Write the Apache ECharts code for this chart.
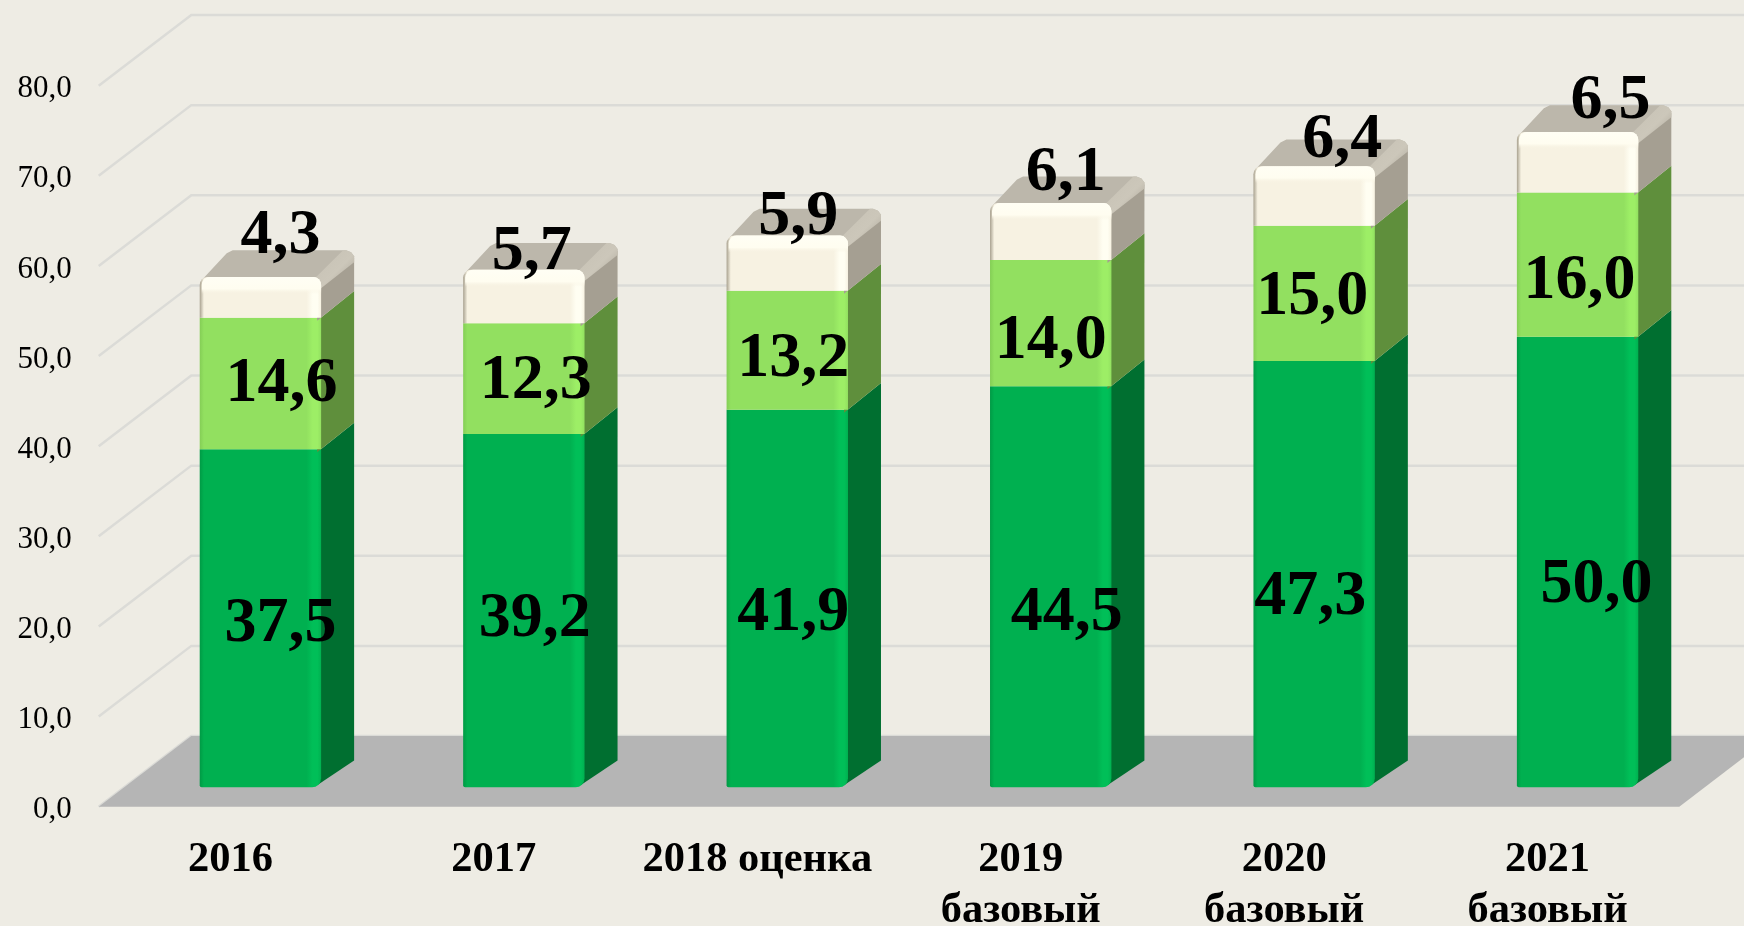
<!doctype html>
<html lang="ru">
<head>
    <title>Chart</title>
    <meta charset="utf-8">
    <script src="https://cdn.jsdelivr.net/npm/echarts@6/dist/echarts.min.js"></script>
    <style>
        html, body { margin: 0; padding: 0; background: #EEECE4; }
        #main { width: 1744px; height: 926px; }
    </style>
</head>
<body>
<div id="main"></div>
<script type="text/javascript">
    var categories = ['2016', '2017', '2018 оценка', '2019\nбазовый', '2020\nбазовый', '2021\nбазовый'];
    var seriesBase = [37.5, 39.2, 41.9, 44.5, 47.3, 50.0];
    var seriesMid = [14.6, 12.3, 13.2, 14.0, 15.0, 16.0];
    var seriesTop = [4.3, 5.7, 5.9, 6.1, 6.4, 6.5];
    var yTicks = [0, 10, 20, 30, 40, 50, 60, 70, 80];

    // hand placed labels in the original, px away from the middle of each segment
    var labelNudgeX = [
        [20, 11, 6, 16, -4, 19],
        [21, 12, 6, 0, -2, 2],
        [20, 8, 11, 15, 28, 33]
    ];
    var labelNudgeY = [
        [6, 9, 15, 27, 23, 23],
        [1, 3, 9, 18, 4, 17],
        [-62, -45, -47, -59, -57, -62]
    ];

    // 3d look of the plot box
    var boxDx = 92.6, boxDy = -70.7;
    var barShiftX = 30, barShiftY = -19.4, barHalf = 60.7;
    var sideDx = 33, sideDy = -26.7;
    var bevelTop = 2;

    var palette = [
        {edge: '#009A45', front: '#00B050', light: '#00BF58', side: '#006F30'},
        {edge: '#84CE56', front: '#92E060', light: '#9DEE66', side: '#5F8F3C'},
        {edge: '#A8A18F', front: '#F7F2E2', light: '#FFFEF2', side: '#A59F92'}
    ];

    function fmt(v) {
        return v.toFixed(1).replace('.', ',');
    }

    function stackRows(values, below) {
        return values.map(function (v, i) {
            var start = below ? below[i] : 0;
            return [i, start, start + v, v];
        });
    }

    var rowsBase = stackRows(seriesBase);
    var endsBase = rowsBase.map(function (r) { return r[2]; });
    var rowsMid = stackRows(seriesMid, endsBase);
    var endsMid = rowsMid.map(function (r) { return r[2]; });
    var rowsTop = stackRows(seriesTop, endsMid);

    function renderWall(params, api) {
        var cs = params.coordSys;
        var y = api.coord([0, api.value(0)])[1];
        return {
            type: 'polyline',
            shape: {points: [[cs.x, y], [cs.x + boxDx, y + boxDy], [cs.x + cs.width + boxDx, y + boxDy]]},
            style: {stroke: '#DBDBD7', lineWidth: 2.5, fill: null}
        };
    }

    function renderFloor(params, api) {
        var cs = params.coordSys;
        var y = api.coord([0, 0])[1];
        return {
            type: 'polygon',
            shape: {points: [
                [cs.x, y],
                [cs.x + boxDx, y + boxDy],
                [cs.x + cs.width + boxDx, y + boxDy],
                [cs.x + cs.width, y]
            ]},
            style: {fill: '#B5B5B5'}
        };
    }

    function makeRenderBar(level) {
        var c = palette[level];
        return function (params, api) {
            var pLow = api.coord([api.value(0), api.value(1)]);
            var pHigh = api.coord([api.value(0), api.value(2)]);
            var x0 = pLow[0] + barShiftX - barHalf;
            var x1 = pLow[0] + barShiftX + barHalf;
            var yb = pLow[1] + barShiftY;
            var yt = pHigh[1] + barShiftY - (level === 2 ? bevelTop : 0);
            var w = x1 - x0;
            var kids = [];

            kids.push({
                type: 'polygon',
                shape: {points: [
                    [x1 - 4, yb + (level === 0 ? -2 : 3)],
                    [x1 - 4, yt + (level === 2 ? 8 : 3)],
                    [x1 + sideDx, yt + sideDy + (level === 2 ? 8 : 0)],
                    [x1 + sideDx, yb + sideDy]
                ]},
                style: {fill: c.side}
            });

            if (level === 2) {
                // top face with rounded back corners
                var bx = sideDx, by = sideDy;
                kids.push({
                    type: 'polygon',
                    shape: {points: [
                        [x0 + 3, yt + 2],
                        [x0 + bx - 6, yt + by + 3],
                        [x0 + bx, yt + by],
                        [x1 + bx - 8, yt + by],
                        [x1 + bx - 3, yt + by + 2],
                        [x1 + bx, yt + by + 6],
                        [x1 + bx, yt + by + 9],
                        [x1 - 2, yt + 9],
                        [x1 - 6, yt + 2]
                    ]},
                    style: {fill: '#BCB7AB'}
                });
                kids.push({
                    type: 'polygon',
                    shape: {points: [
                        [x1 - 6, yt + 1],
                        [x1 + bx - 11, yt + by],
                        [x1 + bx - 8, yt + by],
                        [x1 + bx - 3, yt + by + 2],
                        [x1 + bx, yt + by + 6],
                        [x1 + bx, yt + by + 12],
                        [x1 - 1, yt + 12]
                    ]},
                    style: {
                        fill: new echarts.graphic.LinearGradient(0, 0, 1, 1, [
                            {offset: 0, color: '#C6C1B4'},
                            {offset: 0.55, color: '#CCC7BA'},
                            {offset: 1, color: '#A59F92'}
                        ])
                    }
                });
            }

            var r = [0, 0, 0, 0];
            if (level === 0) { r = [0, 0, 9, 2]; }
            if (level === 2) { r = [8, 8, 0, 0]; }
            kids.push({
                type: 'rect',
                shape: {x: x0, y: yt, width: w, height: yb - yt, r: r},
                style: {
                    fill: new echarts.graphic.LinearGradient(0, 0, 1, 0, [
                        {offset: 0, color: c.edge},
                        {offset: 0.035, color: c.front},
                        {offset: 0.88, color: c.front},
                        {offset: 0.93, color: c.light},
                        {offset: 0.97, color: c.light},
                        {offset: 1, color: c.front}
                    ])
                }
            });

            if (level === 2) {
                kids.push({
                    type: 'rect',
                    shape: {x: x0 + 2, y: yt, width: w - 2, height: 17, r: [8, 8, 0, 0]},
                    style: {
                        fill: new echarts.graphic.LinearGradient(0, 0, 0, 1, [
                            {offset: 0, color: '#FFFEF4'},
                            {offset: 0.7, color: '#FFFDF0'},
                            {offset: 1, color: 'rgba(247,242,226,0)'}
                        ])
                    }
                });
            }
            return {type: 'group', children: kids};
        };
    }

    function makeRenderLabel(level) {
        return function (params, api) {
            var i = api.value(0);
            var mid = (api.value(1) + api.value(2)) / 2;
            var p = api.coord([i, mid]);
            return {
                type: 'text',
                x: p[0] + barShiftX + labelNudgeX[level][i],
                y: p[1] + barShiftY + labelNudgeY[level][i],
                style: {
                    text: fmt(api.value(3)),
                    fill: '#000',
                    align: 'center',
                    verticalAlign: 'middle',
                    fontFamily: '"Liberation Serif"',
                    fontWeight: 'bold',
                    fontSize: 64
                }
            };
        };
    }

    var chart = echarts.init(document.getElementById('main'));
    var rows = [rowsBase, rowsMid, rowsTop];
    var series = [
        {type: 'custom', coordinateSystem: 'cartesian2d', renderItem: renderWall, data: yTicks.map(function (v) { return [v]; }), encode: {y: 0}, silent: true, z: 1},
        {type: 'custom', coordinateSystem: 'cartesian2d', renderItem: renderFloor, data: [[0]], silent: true, z: 2}
    ];
    rows.forEach(function (data, level) {
        series.push({type: 'custom', coordinateSystem: 'cartesian2d', renderItem: makeRenderBar(level), data: data, silent: true, z: 3 + level});
    });
    rows.forEach(function (data, level) {
        series.push({type: 'custom', coordinateSystem: 'cartesian2d', renderItem: makeRenderLabel(level), data: data, silent: true, z: 10});
    });

    chart.setOption({
        animation: false,
        backgroundColor: '#EEECE4',
        grid: {left: 98.7, right: 64.7, top: 85.7, bottom: 119.3, outerBoundsMode: 'none'},
        xAxis: {
            type: 'category',
            data: categories,
            axisLine: {show: false},
            axisTick: {show: false},
            axisLabel: {
                interval: 0,
                margin: 28,
                color: '#000',
                fontFamily: 'Liberation Serif',
                fontWeight: 'bold',
                fontSize: 42.5,
                lineHeight: 51
            }
        },
        yAxis: {
            type: 'value',
            min: 0,
            max: 80,
            interval: 10,
            splitLine: {show: false},
            axisLine: {show: false},
            axisTick: {show: false},
            axisLabel: {
                margin: 27,
                formatter: function (v) {
                    return '{t|' + fmt(v) + '}';
                },
                rich: {
                    t: {
                        color: '#000',
                        fontFamily: 'Liberation Serif',
                        fontSize: 31,
                        padding: [7, 0, 0, 0]
                    }
                }
            }
        },
        series: series
    });
</script>
</body>
</html>
